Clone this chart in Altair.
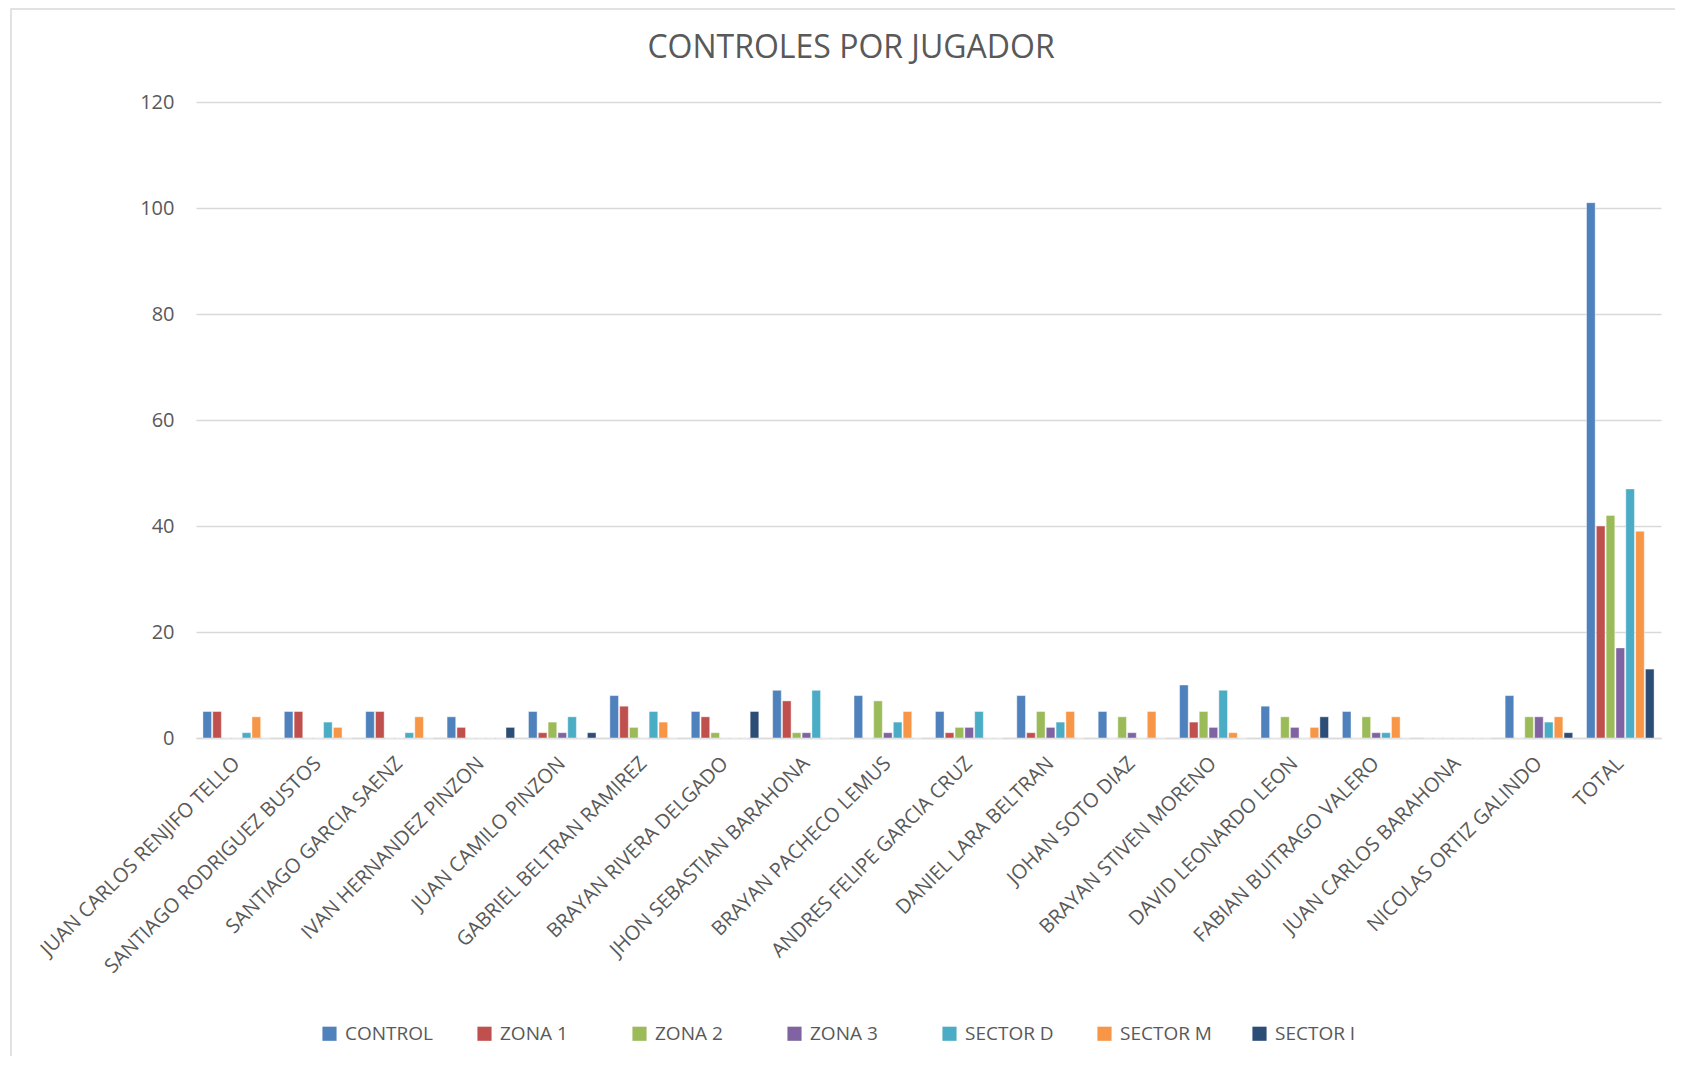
import altair as alt
import pandas as pd

players = [
    "JUAN CARLOS RENJIFO TELLO", "SANTIAGO RODRIGUEZ BUSTOS", "SANTIAGO GARCIA SAENZ",
    "IVAN HERNANDEZ PINZON", "JUAN CAMILO PINZON", "GABRIEL BELTRAN  RAMIREZ",
    "BRAYAN RIVERA DELGADO", "JHON SEBASTIAN BARAHONA", "BRAYAN PACHECO LEMUS",
    "ANDRES FELIPE GARCIA CRUZ", "DANIEL  LARA BELTRAN", "JOHAN SOTO DIAZ",
    "BRAYAN STIVEN MORENO", "DAVID LEONARDO LEON", "FABIAN BUITRAGO VALERO",
    "JUAN CARLOS BARAHONA", "NICOLAS  ORTIZ GALINDO", "TOTAL",
]
series = ["CONTROL", "ZONA 1", "ZONA 2", "ZONA 3", "SECTOR D", "SECTOR M", "SECTOR I"]
colors = ["#4f81bd", "#c0504d", "#9bbb59", "#8064a2", "#4bacc6", "#f79646", "#2c4d75"]

control  = [5, 5, 5, 4, 5, 8, 5, 9, 8, 5, 8, 5, 10, 6, 5, 0, 8, 101]
zona1    = [5, 5, 5, 2, 1, 6, 4, 7, 0, 1, 1, 0, 3, 0, 0, 0, 0, 40]
zona2    = [0, 0, 0, 0, 3, 2, 1, 1, 7, 2, 5, 4, 5, 4, 4, 0, 4, 42]
zona3    = [0, 0, 0, 0, 1, 0, 0, 1, 1, 2, 2, 1, 2, 2, 1, 0, 4, 17]
sector_d = [1, 3, 1, 0, 4, 5, 0, 9, 3, 5, 3, 0, 9, 0, 1, 0, 3, 47]
sector_m = [4, 2, 4, 0, 0, 3, 0, 0, 5, 0, 5, 5, 1, 2, 4, 0, 4, 39]
sector_i = [0, 0, 0, 2, 1, 0, 5, 0, 0, 0, 0, 0, 0, 4, 0, 0, 1, 13]

title_text = ["CONTROLES POR JUGADOR"]

values = [control, zona1, zona2, zona3, sector_d, sector_m, sector_i]
rows = []
for s, vals in zip(series, values):
    for p, v in zip(players, vals):
        rows.append({"jugador": p, "serie": s, "valor": v})
df = pd.DataFrame(rows)

FONT = "Open Sans"
GREY = "#595959"

frame = alt.Chart(pd.DataFrame({"a": [0]})).mark_rect(
    fillOpacity=0, stroke="#d9d9d9", strokeWidth=1.5, clip=False
).encode(
    x=alt.value(-185), x2=alt.value(1500), y=alt.value(-93), y2=alt.value(1000)
)

title = alt.Chart(pd.DataFrame({"t": title_text})).mark_text(
    font=FONT, fontSize=32, color=GREY, align="center", baseline="middle", clip=False
).encode(
    text="t:N", x=alt.value(655), y=alt.value(-54)
)

bars = alt.Chart(df).mark_bar(stroke="white", strokeWidth=0.6, strokeOpacity=0.7).encode(
    x=alt.X("jugador:N", sort=players, title=None,
            scale=alt.Scale(paddingInner=0.17, paddingOuter=0.085),
            axis=alt.Axis(labelAngle=-45, labelAlign="right", labelBaseline="middle",
                          labelFont=FONT, labelFontSize=20, labelColor=GREY,
                          labelPadding=22, ticks=False, domainColor="#d9d9d9",
                          domainWidth=1.5, labelLimit=400, labelOverlap=False)),
    xOffset=alt.XOffset("serie:N", sort=series, scale=alt.Scale(paddingInner=0.12)),
    y=alt.Y("valor:Q", title=None,
            scale=alt.Scale(domain=[0, 120], nice=False),
            axis=alt.Axis(values=[0, 20, 40, 60, 80, 100, 120], domain=False, ticks=False,
                          labelFont=FONT, labelFontSize=20, labelColor=GREY,
                          labelPadding=22, gridColor="#d9d9d9", gridWidth=1.5)),
    color=alt.Color("serie:N", sort=series,
                    scale=alt.Scale(domain=series, range=colors),
                    legend=alt.Legend(title=None, orient="none", direction="horizontal",
                                      legendX=124, legendY=922, columns=7,
                                      symbolType="square", symbolSize=200,
                                      symbolStrokeWidth=0, gridAlign="all",
                                      columnPadding=38, labelFont=FONT,
                                      labelFontSize=19, labelColor=GREY,
                                      labelOffset=6, labelLimit=300)),
)

chart = alt.layer(frame, bars, title).properties(
    width=1465, height=636,
    autosize=alt.AutoSizeParams(type="none"),
    padding={"left": 188, "top": 94, "right": 14, "bottom": 318},
).configure_view(stroke=None)

chart.save("out.html", embed_options={"renderer": "svg", "actions": False})
